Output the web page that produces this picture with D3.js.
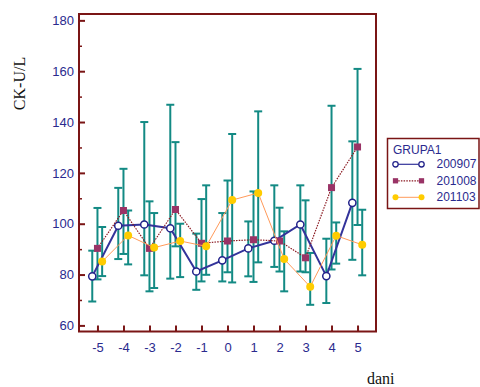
<!DOCTYPE html>
<html>
<head>
<meta charset="utf-8">
<script src="https://cdn.jsdelivr.net/npm/d3@7"></script>
<style>
  body { margin: 0; background: #fff; }
  svg { display: block; }
</style>
</head>
<body>
<svg id="chart" width="480" height="387"></svg>
<script>
// days relative to the event
const days = [-5, -4, -3, -2, -1, 0, 1, 2, 3, 4, 5];

// GRUPA1 = 200907
const mean200907 = [79.3, 99.2, 99.7, 98.2, 81.2, 85.6, 90.3, 93.3, 99.7, 79.4, 108.2];
const lo200907 = [69.4, 86.1, 79.7, 78.4, 74.0, 77.3, 79.3, 83.0, 81.2, 68.8, 85.8];
const hi200907 = [89.4, 114.1, 140.0, 146.8, 96.1, 104.2, 100.9, 115.1, 115.1, 94.1, 132.4];

// GRUPA1 = 201008
const mean201008 = [90.3, 105.2, 90.3, 105.6, 92.3, 93.2, 93.7, 93.2, 86.6, 114.2, 130.2];
const lo201008 = [78.1, 88.1, 73.4, 91.1, 77.3, 80.9, 77.1, 81.2, 80.9, 82.0, 99.5];
const hi201008 = [106.2, 121.6, 108.8, 132.1, 109.7, 117.0, 112.7, 106.3, 109.2, 146.4, 160.9];

// GRUPA1 = 201103
const mean201103 = [85.1, 95.4, 90.6, 93.2, 91.1, 109.3, 112.1, 86.1, 75.2, 95.3, 91.7];
const lo201103 = [79.4, 84.0, 74.7, 79.0, 79.9, 76.9, 84.8, 73.4, 68.1, 84.3, 79.7];
const hi201103 = [98.7, 105.2, 104.2, 100.0, 115.1, 135.3, 144.2, 97.0, 88.5, 100.5, 105.5];

const yTicks = [60, 80, 100, 120, 140, 160, 180];
const yMinorTicks = [70, 90, 110, 130, 150, 170];

const FRAME = '#7a1515';
const LABEL = '#2a2a8e';
const BAR = '#138a84';

const groups = [
  { name: '200907', mean: mean200907, lo: lo200907, hi: hi200907, shift: -0.2,
    line: '#33339a', lineWidth: 2, legendWidth: 1.2, dash: null, marker: 'openCircle' },
  { name: '201008', mean: mean201008, lo: lo201008, hi: hi201008, shift: 0,
    line: '#8b1a22', lineWidth: 1.2, legendWidth: 1.2, dash: '1.5,1.2', marker: 'square' },
  { name: '201103', mean: mean201103, lo: lo201103, hi: hi201103, shift: 0.18,
    line: '#ff9a5a', lineWidth: 1, legendWidth: 1, dash: null, marker: 'dot' }
];

const svg = d3.select('#chart');
const plotLeft = 79, plotRight = 376, plotTop = 14, plotBottom = 331.5;

const x = d3.scaleLinear().domain([-5.71, 5.71]).range([plotLeft, plotRight]);
const y = d3.scaleLinear().domain([57.6, 182.5]).range([plotBottom, plotTop]);

// y axis, ticks pointing inward
const yAxis = svg.append('g')
  .attr('transform', `translate(${plotLeft},0)`)
  .call(d3.axisLeft(y).tickValues(yTicks).tickSize(-6).tickPadding(5));
yAxis.select('.domain').remove();
yAxis.selectAll('line').attr('stroke', FRAME).attr('stroke-width', 2);
yAxis.selectAll('text')
  .attr('fill', LABEL)
  .style('font-family', '"Liberation Sans", Arial, sans-serif')
  .style('font-size', '13px');

const yMinor = svg.append('g')
  .attr('transform', `translate(${plotLeft},0)`)
  .call(d3.axisLeft(y).tickValues(yMinorTicks).tickSize(-3).tickFormat(''));
yMinor.select('.domain').remove();
yMinor.selectAll('line').attr('stroke', FRAME).attr('stroke-width', 1.5);

// x axis
const xAxis = svg.append('g')
  .attr('transform', `translate(0,${plotBottom})`)
  .call(d3.axisBottom(x).tickValues(days).tickSize(-6).tickPadding(11)
    .tickFormat(d => String(d)));
xAxis.select('.domain').remove();
xAxis.selectAll('line').attr('stroke', FRAME).attr('stroke-width', 2);
xAxis.selectAll('text')
  .attr('fill', LABEL)
  .style('font-family', '"Liberation Sans", Arial, sans-serif')
  .style('font-size', '13px');

// error bars
groups.forEach(g => {
  const bars = svg.append('g').attr('stroke', BAR).attr('stroke-width', 2).attr('fill', 'none');
  days.forEach((d, i) => {
    const cx = x(d + g.shift);
    bars.append('line')
      .attr('x1', cx).attr('x2', cx)
      .attr('y1', y(g.lo[i])).attr('y2', y(g.hi[i]));
    [g.lo[i], g.hi[i]].forEach(v => {
      bars.append('line')
        .attr('x1', cx - 4).attr('x2', cx + 4)
        .attr('y1', y(v)).attr('y2', y(v));
    });
  });
});

function drawMarker(sel, type, cx, cy, k) {
  if (type === 'openCircle') {
    sel.append('circle').attr('cx', cx).attr('cy', cy).attr('r', 3.6 * k)
      .attr('fill', '#fff').attr('stroke', '#22228a').attr('stroke-width', 1.5 * Math.sqrt(k));
  } else if (type === 'square') {
    sel.append('rect').attr('x', cx - 3.5 * k).attr('y', cy - 3.5 * k)
      .attr('width', 7 * k).attr('height', 7 * k).attr('fill', '#993366');
  } else {
    sel.append('circle').attr('cx', cx).attr('cy', cy).attr('r', 4 * k)
      .attr('fill', '#ffcc00');
  }
}

// lines and markers
groups.forEach(g => {
  const pts = days.map((d, i) => [x(d + g.shift), y(g.mean[i])]);
  svg.append('path')
    .attr('d', d3.line()(pts))
    .attr('fill', 'none')
    .attr('stroke', g.line)
    .attr('stroke-width', g.lineWidth)
    .attr('stroke-dasharray', g.dash);
  const m = svg.append('g');
  pts.forEach(p => drawMarker(m, g.marker, p[0], p[1], 1));
});

// frame
svg.append('rect')
  .attr('x', plotLeft).attr('y', plotTop)
  .attr('width', plotRight - plotLeft).attr('height', plotBottom - plotTop)
  .attr('fill', 'none').attr('stroke', FRAME).attr('stroke-width', 2);

// axis titles
svg.append('text')
  .attr('transform', 'translate(25,83.5) rotate(-90)')
  .attr('text-anchor', 'middle')
  .style('font-family', '"Liberation Serif", "Times New Roman", serif')
  .style('font-size', '16px')
  .attr('fill', '#111')
  .text('CK-U/L');

svg.append('text')
  .attr('x', 367).attr('y', 384)
  .style('font-family', '"Liberation Serif", "Times New Roman", serif')
  .style('font-size', '16px')
  .attr('fill', '#111')
  .text('dani');

// legend
const legend = svg.append('g').attr('transform', 'translate(387.5,138.5)');
legend.append('rect')
  .attr('width', 91.5).attr('height', 70)
  .attr('fill', '#fff').attr('stroke', FRAME).attr('stroke-width', 1.5);
legend.append('text')
  .attr('x', 5.5).attr('y', 15)
  .attr('fill', LABEL)
  .style('font-family', '"Liberation Sans", Arial, sans-serif')
  .style('font-size', '12px')
  .text('GRUPA1');

groups.forEach((g, i) => {
  const cy = 25.8 + i * 16.5;
  legend.append('line')
    .attr('x1', 8).attr('x2', 34).attr('y1', cy).attr('y2', cy)
    .attr('stroke', g.line)
    .attr('stroke-width', g.legendWidth)
    .attr('stroke-dasharray', g.dash);
  drawMarker(legend, g.marker, 8, cy, 0.75);
  drawMarker(legend, g.marker, 34, cy, 0.75);
  legend.append('text')
    .attr('x', 49).attr('y', cy + 4)
    .attr('fill', LABEL)
    .style('font-family', '"Liberation Sans", Arial, sans-serif')
    .style('font-size', '12px')
    .text(g.name);
});
</script>
</body>
</html>
